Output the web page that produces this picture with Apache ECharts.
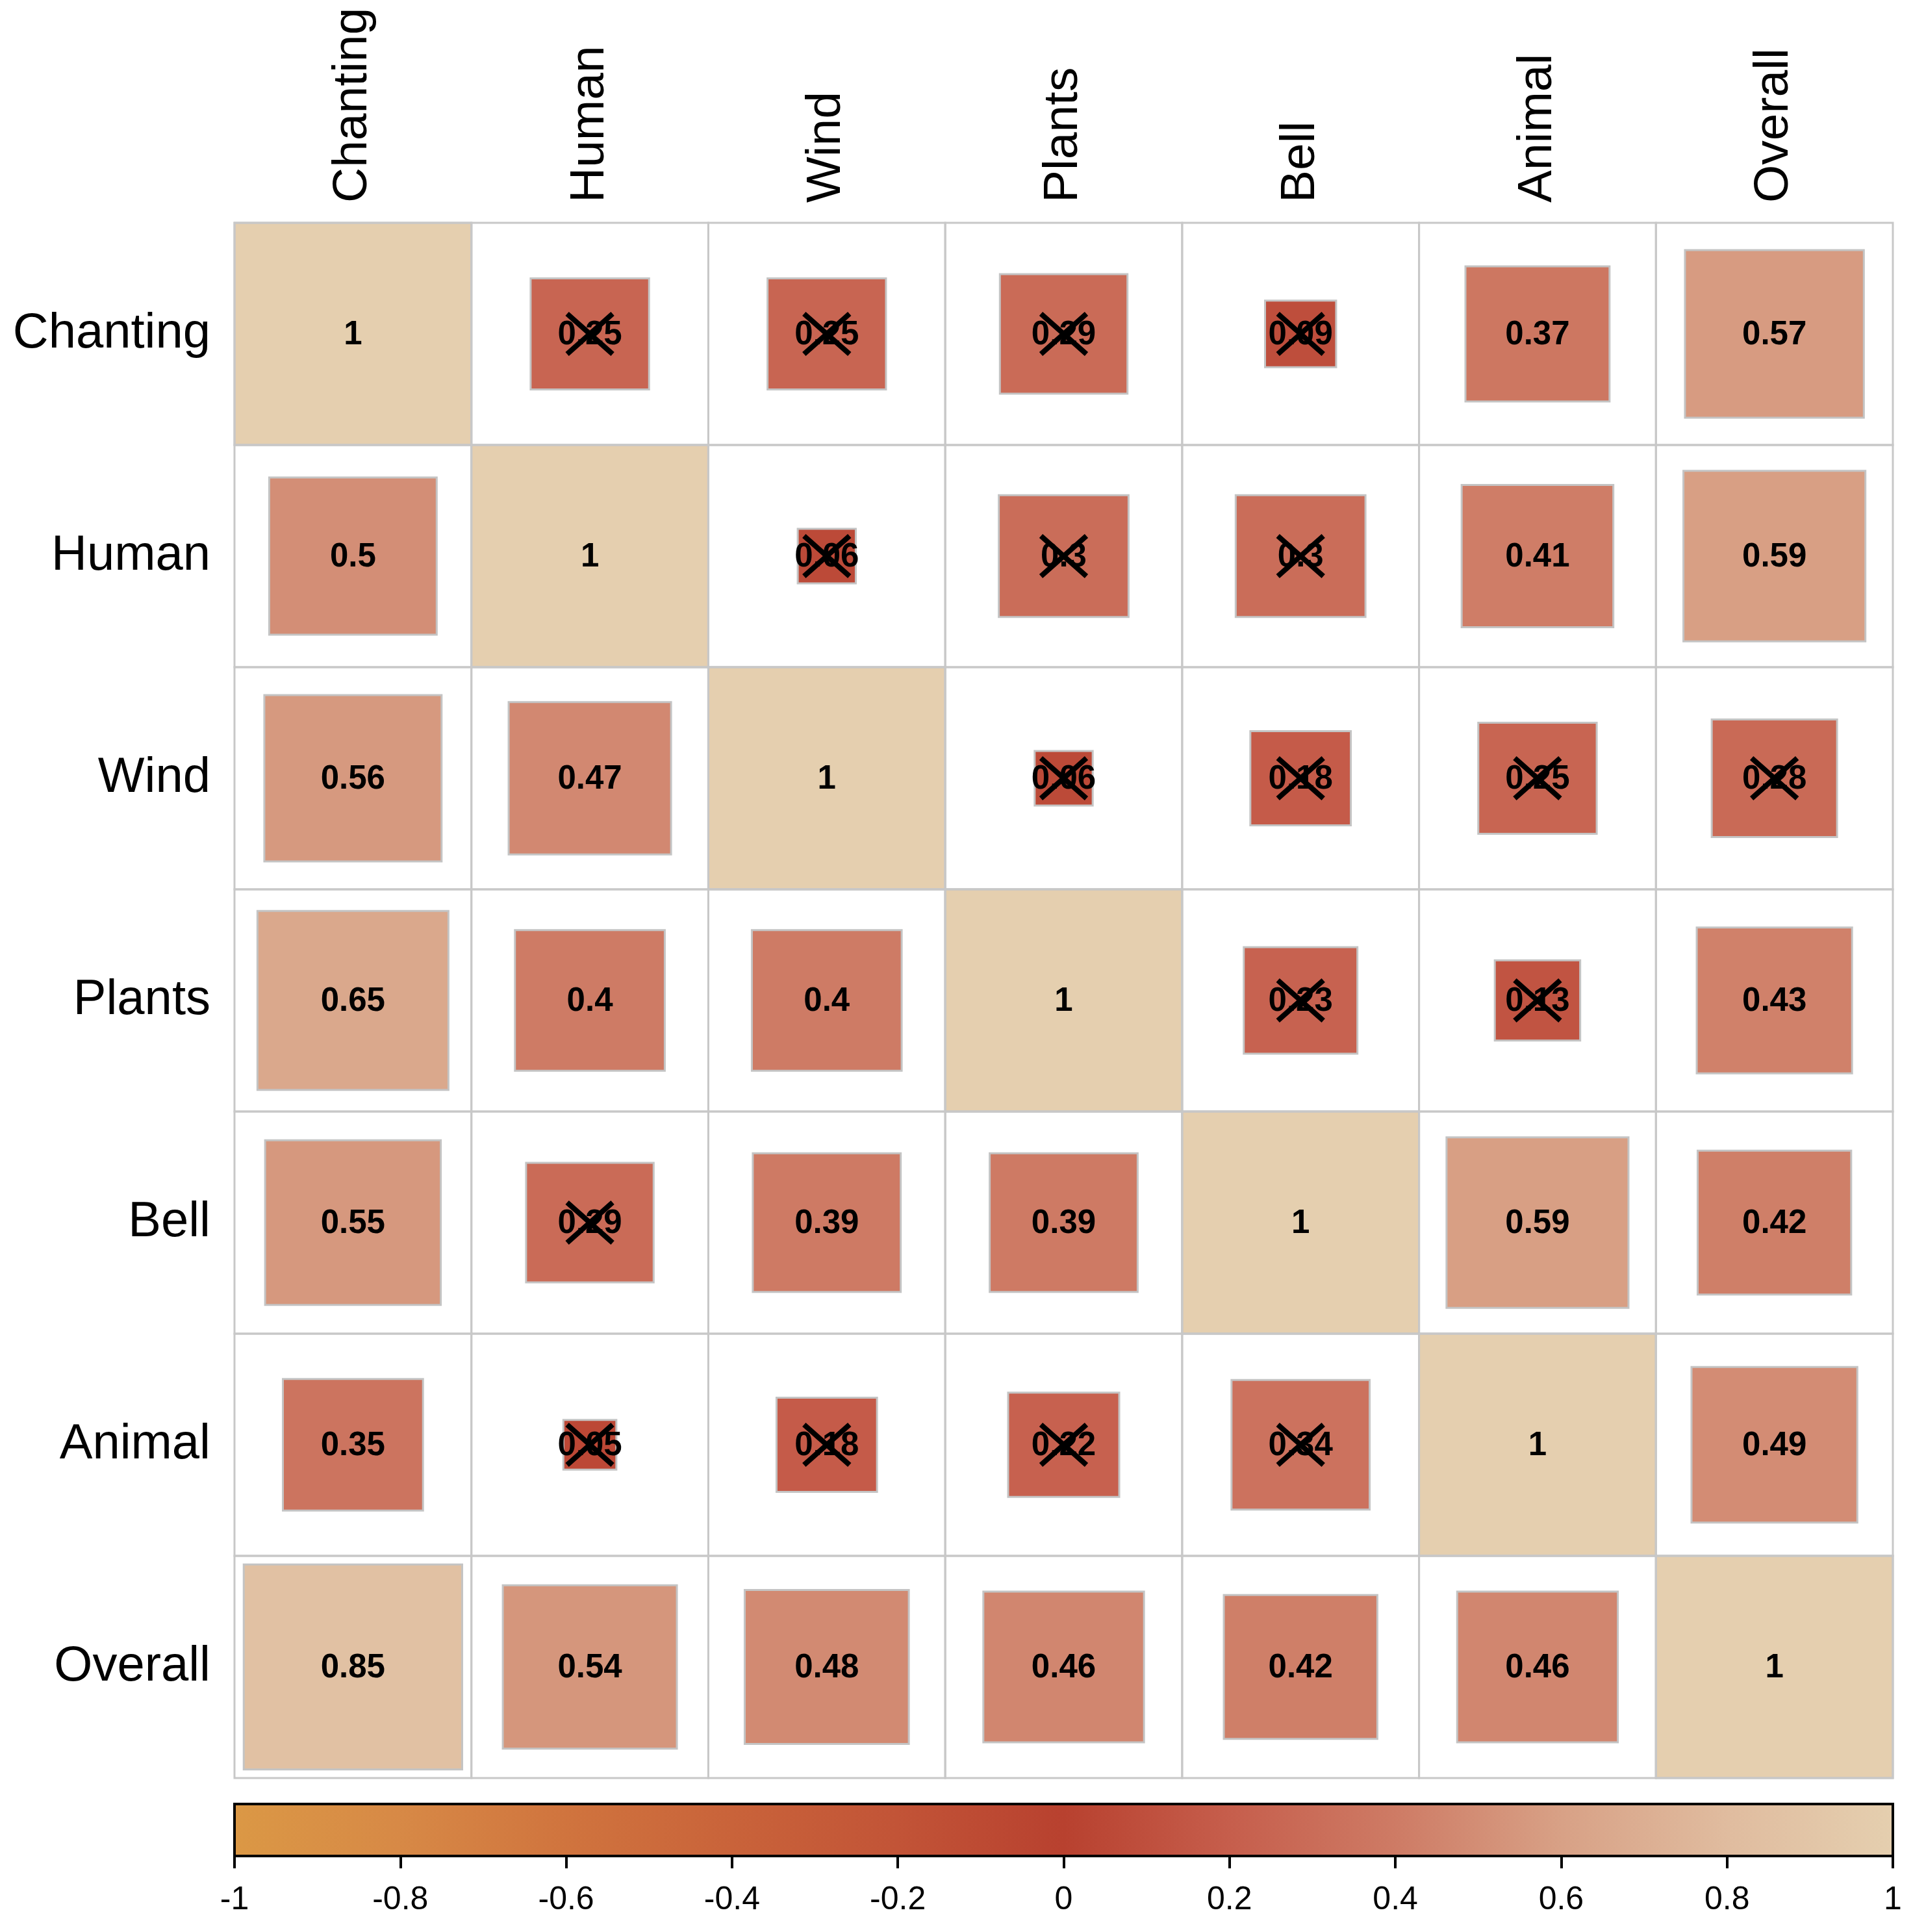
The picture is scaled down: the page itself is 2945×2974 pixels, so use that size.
<!DOCTYPE html>
<html>
<head>
<meta charset="utf-8">
<script src="https://cdn.jsdelivr.net/npm/echarts@6/dist/echarts.min.js"></script>
<style>
html,body{margin:0;padding:0;background:#fff;}
#chart{width:2945px;height:2974px;}
</style>
</head>
<body>
<div id="chart"></div>
<script>
// ---- data ----
var variables = ['Chanting', 'Human', 'Wind', 'Plants', 'Bell', 'Animal', 'Overall'];
var rowChanting = [1, 0.25, 0.25, 0.29, 0.09, 0.37, 0.57];
var rowHuman    = [0.5, 1, 0.06, 0.3, 0.3, 0.41, 0.59];
var rowWind     = [0.56, 0.47, 1, 0.06, 0.18, 0.25, 0.28];
var rowPlants   = [0.65, 0.4, 0.4, 1, 0.23, 0.13, 0.43];
var rowBell     = [0.55, 0.29, 0.39, 0.39, 1, 0.59, 0.42];
var rowAnimal   = [0.35, 0.05, 0.18, 0.22, 0.34, 1, 0.49];
var rowOverall  = [0.85, 0.54, 0.48, 0.46, 0.42, 0.46, 1];
// 1 = not significant (crossed out)
var nsChanting = [0, 1, 1, 1, 1, 0, 0];
var nsHuman    = [0, 0, 1, 1, 1, 0, 0];
var nsWind     = [0, 0, 0, 1, 1, 1, 1];
var nsPlants   = [0, 0, 0, 0, 1, 1, 0];
var nsBell     = [0, 1, 0, 0, 0, 0, 0];
var nsAnimal   = [0, 1, 1, 1, 1, 0, 0];
var nsOverall  = [0, 0, 0, 0, 0, 0, 0];
var colorbarTicks = [-1, -0.8, -0.6, -0.4, -0.2, 0, 0.2, 0.4, 0.6, 0.8, 1];
var paletteValues = [-1, -0.8, -0.6, -0.4, -0.2, 0, 0.2, 0.4, 0.6, 0.8, 1];
var paletteColors = ['#DB9845', '#D78946', '#D0743E', '#C9633A', '#C25437', '#B8412F',
                     '#C65E4C', '#CE7B65', '#D8A186', '#E0BC9F', '#E5CFAF'];

var corrRows = [rowChanting, rowHuman, rowWind, rowPlants, rowBell, rowAnimal, rowOverall];
var nsRows = [nsChanting, nsHuman, nsWind, nsPlants, nsBell, nsAnimal, nsOverall];

function hexToRgb(h) {
  return [parseInt(h.substr(1, 2), 16), parseInt(h.substr(3, 2), 16), parseInt(h.substr(5, 2), 16)];
}
function colorFor(v) {
  if (v <= paletteValues[0]) return paletteColors[0];
  for (var i = 1; i < paletteValues.length; i++) {
    if (v <= paletteValues[i]) {
      var t = (v - paletteValues[i - 1]) / (paletteValues[i] - paletteValues[i - 1]);
      var a = hexToRgb(paletteColors[i - 1]), b = hexToRgb(paletteColors[i]);
      return 'rgb(' + [0, 1, 2].map(function (k) { return Math.round(a[k] + (b[k] - a[k]) * t); }).join(',') + ')';
    }
  }
  return paletteColors[paletteColors.length - 1];
}

var cellData = [];
for (var r = 0; r < variables.length; r++) {
  for (var c = 0; c < variables.length; c++) {
    cellData.push([c, r, corrRows[r][c], nsRows[r][c]]);
  }
}

var FONT = "'Liberation Sans', Arial, Helvetica, sans-serif";
var chart = echarts.init(document.getElementById('chart'), null, {renderer: 'canvas'});

function renderCell(params, api) {
  var c = api.value(0), r = api.value(1), v = api.value(2), ns = api.value(3);
  var center = api.coord([variables[c], variables[r]]);
  var size = api.size([1, 1]);
  var w = size[0], h = size[1];
  var s = Math.sqrt(Math.abs(v));
  var sw = w * s, sh = h * s;
  var children = [];
  children.push({
    type: 'rect',
    shape: {x: center[0] - sw / 2, y: center[1] - sh / 2, width: sw, height: sh},
    style: {fill: colorFor(v), stroke: '#C4C4C4', lineWidth: 3}
  });
  children.push({
    type: 'text',
    style: {
      text: String(v), x: center[0], y: center[1] + 2,
      align: 'center', verticalAlign: 'middle',
      fontSize: 51, fontWeight: 'bold', fontFamily: FONT, fill: '#000'
    }
  });
  if (ns) {
    var cw = 35, ch = 31;
    children.push({
      type: 'line',
      shape: {x1: center[0] - cw, y1: center[1] - ch, x2: center[0] + cw, y2: center[1] + ch},
      style: {stroke: '#000', lineWidth: 8}
    });
    children.push({
      type: 'line',
      shape: {x1: center[0] + cw, y1: center[1] - ch, x2: center[0] - cw, y2: center[1] + ch},
      style: {stroke: '#000', lineWidth: 8}
    });
  }
  children.push({
    type: 'rect',
    shape: {x: center[0] - w / 2, y: center[1] - h / 2, width: w, height: h},
    style: {fill: null, stroke: '#C8C8C8', lineWidth: 3}
  });
  return {type: 'group', children: children};
}

function renderBar(params, api) {
  var p0 = api.coord([api.value(0), 1]);
  var p1 = api.coord([api.value(1), 0]);
  var stops = paletteValues.map(function (v, i) {
    return {offset: (v - paletteValues[0]) / (paletteValues[paletteValues.length - 1] - paletteValues[0]), color: paletteColors[i]};
  });
  return {
    type: 'rect',
    shape: {x: p0[0], y: p0[1], width: p1[0] - p0[0], height: p1[1] - p0[1]},
    style: {fill: new echarts.graphic.LinearGradient(0, 0, 1, 0, stops), stroke: '#000', lineWidth: 4}
  };
}

var option = {
  backgroundColor: '#fff',
  animation: false,
  grid: [
    {left: 361, top: 343, width: 2553, height: 2394, containLabel: false},
    {left: 361, top: 2777, width: 2553, height: 80, containLabel: false}
  ],
  xAxis: [
    {
      type: 'category', data: variables, position: 'top', gridIndex: 0,
      axisLine: {show: false}, axisTick: {show: false}, splitLine: {show: false},
      axisLabel: {rotate: -90, fontSize: 75, fontFamily: FONT, color: '#000', margin: 31, interval: 0}
    },
    {
      type: 'value', gridIndex: 1, min: -1, max: 1, interval: 0.2, position: 'bottom',
      axisLine: {show: true, lineStyle: {color: '#000', width: 4}},
      axisTick: {show: true, length: 19, lineStyle: {color: '#000', width: 4}},
      splitLine: {show: false},
      axisLabel: {fontSize: 50, fontFamily: FONT, color: '#000', margin: 43,
        formatter: function (v) { var n = Math.round(v * 10) / 10; return colorbarTicks.indexOf(n) >= 0 ? String(n) : ''; }}
    }
  ],
  yAxis: [
    {
      type: 'category', data: variables, inverse: true, gridIndex: 0,
      axisLine: {show: false}, axisTick: {show: false}, splitLine: {show: false},
      axisLabel: {fontSize: 76, fontFamily: FONT, color: '#000', margin: 37, interval: 0}
    },
    {
      type: 'value', gridIndex: 1, min: 0, max: 1, show: false
    }
  ],
  series: [
    {
      type: 'custom', xAxisIndex: 0, yAxisIndex: 0,
      renderItem: renderCell,
      encode: {x: 0, y: 1},
      data: cellData,
      silent: true
    },
    {
      type: 'custom', xAxisIndex: 1, yAxisIndex: 1,
      renderItem: renderBar,
      data: [[colorbarTicks[0], colorbarTicks[colorbarTicks.length - 1]]],
      encode: {x: [0, 1]},
      silent: true,
      z: 1
    }
  ]
};
chart.setOption(option);
</script>
</body>
</html>
